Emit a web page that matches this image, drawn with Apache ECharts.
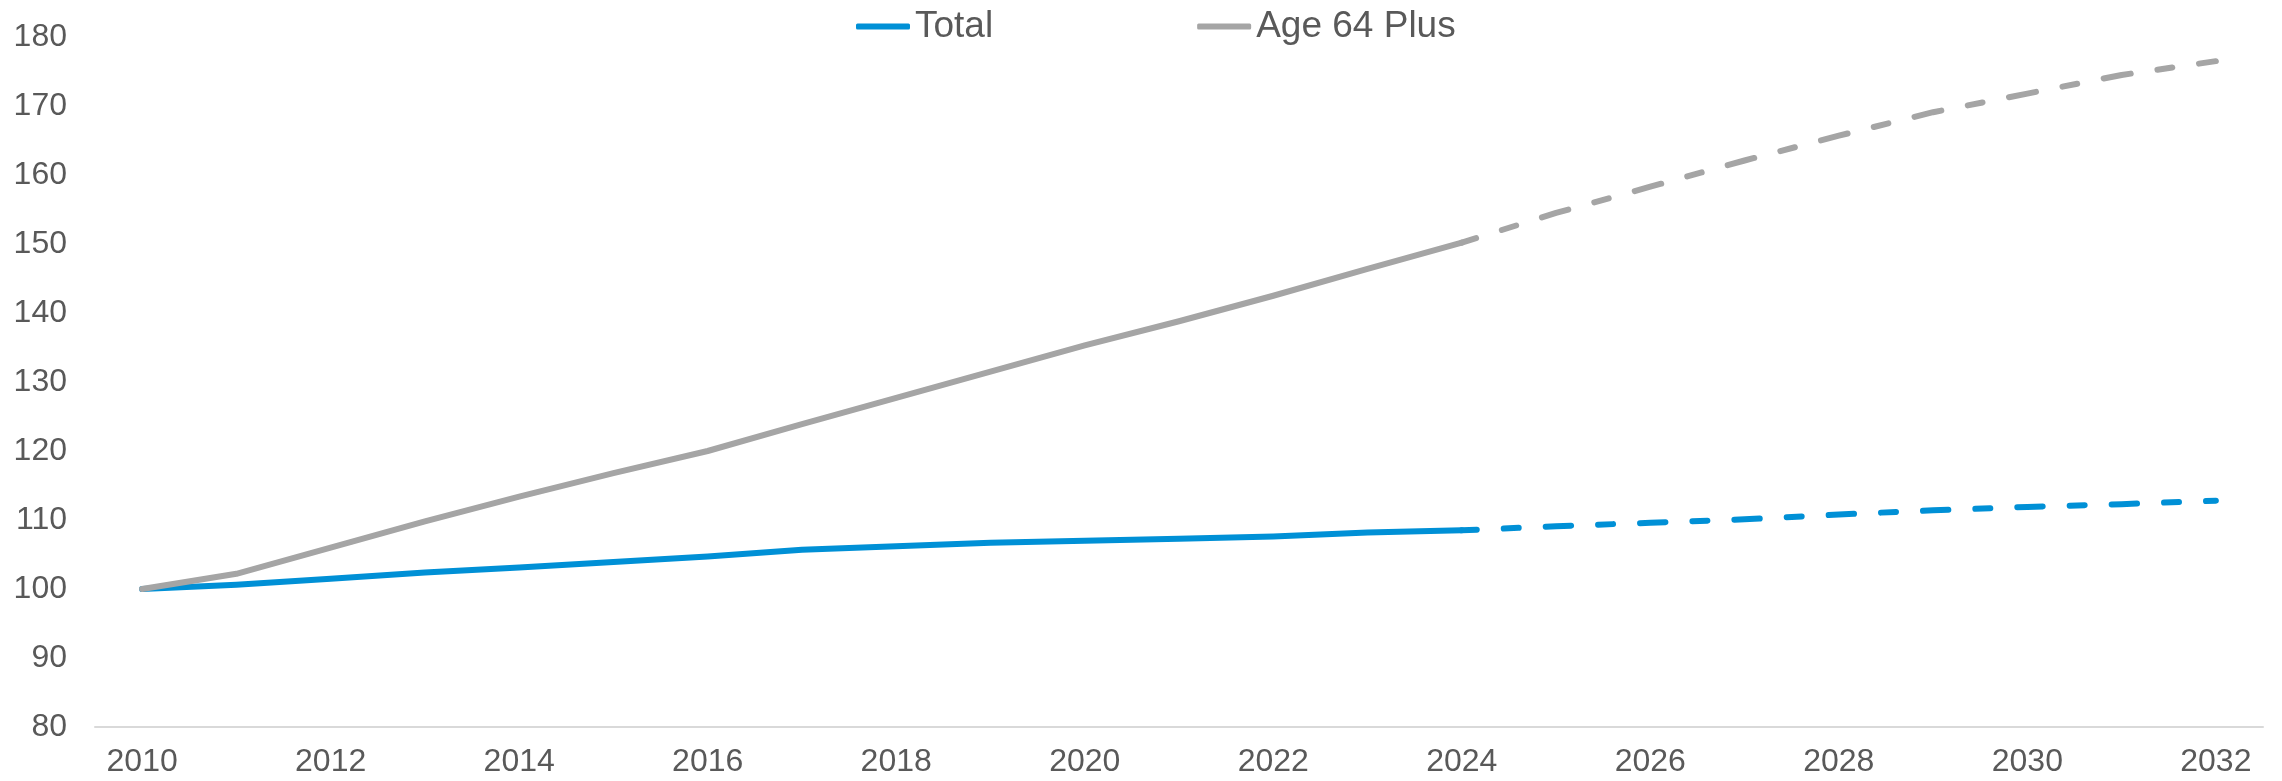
<!DOCTYPE html>
<html>
<head>
<meta charset="utf-8">
<title>Population index</title>
<script src="https://cdn.jsdelivr.net/npm/echarts@6/dist/echarts.min.js"></script>
<style>
  html, body { margin: 0; padding: 0; background: #ffffff; }
  #chart { width: 2282px; height: 781px; }
</style>
</head>
<body>
<div id="chart"></div>
<script>
// Years on the category axis
const years = ['2010','2011','2012','2013','2014','2015','2016','2017','2018','2019','2020',
               '2021','2022','2023','2024','2025','2026','2027','2028','2029','2030','2031','2032'];

// Index, 2010 = 100. Actuals run 2010-2024, projections 2024-2032.
const totalActual      = [100, 100.6, 101.5, 102.4, 103.1, 103.9, 104.7, 105.7, 106.2, 106.7, 107.0, 107.3, 107.6, 108.2, 108.5];
const totalProjected   = [108.5, 109.1, 109.6, 110.1, 110.8, 111.4, 111.9, 112.3, 112.8];
const age64Actual      = [100, 102.2, 106.0, 109.8, 113.4, 116.8, 120.0, 123.9, 127.7, 131.5, 135.3, 138.8, 142.5, 146.4, 150.2];
const age64Projected   = [150.2, 154.5, 158.3, 162.1, 165.7, 169.1, 171.8, 174.5, 176.5];

const yTicks = { min: 80, max: 180, step: 10 };

const BLUE = '#0090d6';
const GREY = '#a5a5a5';
const TEXT = '#595959';
const FONT = '"Liberation Sans", Arial, sans-serif';
const LINE_W = 6;

// place a run of values on the full year range, padding with nulls
function onYears(values, startYear) {
  const start = years.indexOf(String(startYear));
  return years.map((_, i) => (i >= start && i < start + values.length) ? values[i - start] : null);
}

const chart = echarts.init(document.getElementById('chart'), null, { renderer: 'canvas' });

const solid = (color) => ({ color, width: LINE_W, cap: 'round', join: 'round' });
// dash pattern restarts at every year: dash, gap, dash, gap, then the
// leftover dash runs into the next year's first dash
const dashed = (color, period) => ({
  color, width: LINE_W, cap: 'round', join: 'round',
  type: [15, 27, period - 69, 27],
  dashOffset: 15 + 27 + (period - 84)
});

chart.setOption({
  animation: false,
  legend: {
    data: ['Total', 'Age 64 Plus'],
    left: 851,
    top: 3,
    itemWidth: 54,
    itemHeight: 6,
    itemGap: 204,
    icon: 'roundRect',
    textStyle: { fontFamily: FONT, fontSize: 37, color: TEXT, padding: [0, 0, 0, 0] }
  },
  grid: { left: 95, right: 19, top: 37, bottom: 54, containLabel: false },
  xAxis: {
    type: 'category',
    data: years,
    boundaryGap: true,
    axisLine: { show: true, lineStyle: { color: '#d9d9d9', width: 2 } },
    axisTick: { show: false },
    axisLabel: { interval: 1, color: TEXT, fontFamily: FONT, fontSize: 32, margin: 19 },
    splitLine: { show: false }
  },
  yAxis: {
    type: 'value',
    min: yTicks.min,
    max: yTicks.max,
    interval: yTicks.step,
    axisLine: { show: false },
    axisTick: { show: false },
    splitLine: { show: false },
    axisLabel: { color: TEXT, fontFamily: FONT, fontSize: 32, margin: 28 }
  },
  series: [
    {
      name: 'Total', type: 'line', symbol: 'none', z: 2,
      data: onYears(totalActual, 2010),
      lineStyle: solid(BLUE), itemStyle: { color: BLUE }
    },
    {
      name: 'Total projection', type: 'line', symbol: 'none', z: 2,
      data: onYears(totalProjected, 2024),
      lineStyle: dashed(BLUE, 94.4), itemStyle: { color: BLUE }
    },
    {
      name: 'Age 64 Plus', type: 'line', symbol: 'none', z: 3,
      data: onYears(age64Actual, 2010),
      lineStyle: solid(GREY), itemStyle: { color: GREY }
    },
    {
      name: 'Age 64 Plus projection', type: 'line', symbol: 'none', z: 3,
      data: onYears(age64Projected, 2024),
      lineStyle: dashed(GREY, 96.5), itemStyle: { color: GREY }
    }
  ]
});
</script>
</body>
</html>
